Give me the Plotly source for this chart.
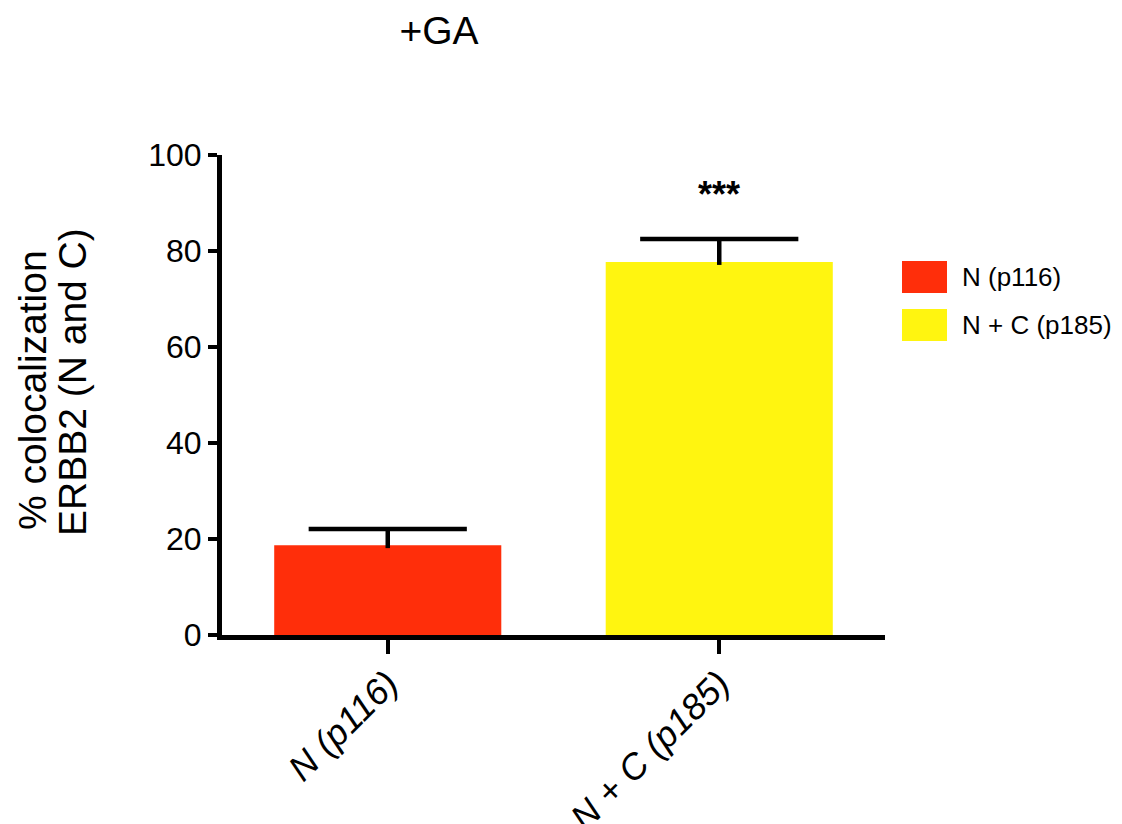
import plotly.graph_objects as go

categories = ["N (p116)", "N + C (p185)"]
means = [18.7, 77.7]
sem = [3.4, 4.8]
bar_colors = ["#FF2E0A", "#FFF510"]
significance = ["", "***"]
y_ticks = [0, 20, 40, 60, 80, 100]

FONT = "Liberation Sans, Arial, sans-serif"

# figure is placed 8px in from the page corner (default body margin)
W, H = 1114, 816
L, T, R, B = 214, 147, 237, 189
PW, PH = W - L - R, H - T - B


def px(xp):
    return (xp - 8 - L) / PW


def py(yp):
    return (H - B - (yp - 8)) / PH


fig = go.Figure()
fig.add_trace(go.Bar(
    x=categories,
    y=means,
    width=0.685,
    marker=dict(color=bar_colors, line=dict(width=0)),
    error_y=dict(type="data", symmetric=False, array=sem, arrayminus=[0.6] * len(sem),
                 color="black", thickness=4.5, width=0),
    showlegend=False,
))
# error-bar caps (top only)
fig.add_trace(go.Scatter(
    x=categories,
    y=[m + s for m, s in zip(means, sem)],
    mode="markers",
    marker=dict(symbol="line-ew-open", size=113, color="black",
                line=dict(color="black", width=4.5)),
    showlegend=False, hoverinfo="skip",
))

# significance stars
for c, m, s, txt in zip(categories, means, sem, significance):
    if txt:
        fig.add_annotation(x=c, y=m + s + 9.3, text="<b>" + txt + "</b>", showarrow=False,
                           font=dict(family=FONT, size=36, color="black"),
                           xanchor="center", yanchor="middle")

# manual legend
leg_y = [(293, 261), (341, 309)]
for (yb, yt), col, name in zip(leg_y, bar_colors, categories):
    fig.add_shape(type="rect", xref="paper", yref="paper", x0=px(902), x1=px(947),
                  y0=py(yb), y1=py(yt), fillcolor=col, line=dict(width=0))
    fig.add_annotation(xref="paper", yref="paper", x=px(960), y=(py(yb) + py(yt)) / 2,
                       text=name, showarrow=False, xanchor="left", yanchor="middle",
                       font=dict(family=FONT, size=26, color="black"))

# y-axis title (two lines)
fig.add_annotation(xref="paper", yref="paper", x=px(32), y=py(390),
                   text="% colocalization", textangle=-90, showarrow=False,
                   xanchor="center", yanchor="middle",
                   font=dict(family=FONT, size=39, color="black"))
fig.add_annotation(xref="paper", yref="paper", x=px(72), y=py(382),
                   text="ERBB2 (N and C)", textangle=-90, showarrow=False,
                   xanchor="center", yanchor="middle",
                   font=dict(family=FONT, size=39, color="black"))

fig.update_layout(
    width=W, height=H,
    margin=dict(l=L, r=R, t=T, b=B),
    plot_bgcolor="white", paper_bgcolor="white",
    title=dict(text="+GA", x=(439 - 8) / W, y=1 - (30 - 8) / H, xanchor="center", yanchor="middle",
               font=dict(family=FONT, size=39, color="black")),
    font=dict(family=FONT, color="black"),
)
fig.update_xaxes(
    range=[-0.5, 1.5], showgrid=False, zeroline=False, showline=True,
    linecolor="black", linewidth=5, ticks="outside", ticklen=14, tickwidth=4,
    tickcolor="black", tickangle=-45, automargin=False, ticklabelstandoff=-6,
    tickfont=dict(family=FONT, size=36, color="black", style="italic"),
)
fig.update_yaxes(
    range=[0, 100], tickvals=y_ticks, showgrid=False, zeroline=False, showline=True,
    linecolor="black", linewidth=5, ticks="outside", ticklen=9, tickwidth=4,
    tickcolor="black", automargin=False,
    tickfont=dict(family=FONT, size=32, color="black"),
)

fig.write_html("out.html")
